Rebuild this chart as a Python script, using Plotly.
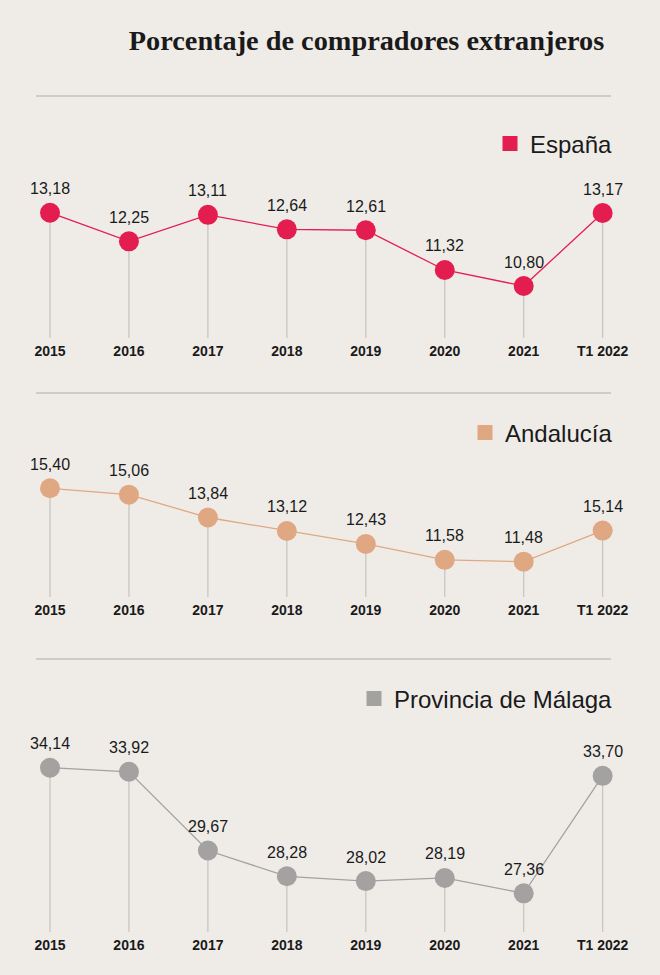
import plotly.graph_objects as go

# ---------------- data ----------------
categories = ["2015", "2016", "2017", "2018", "2019", "2020", "2021", "T1 2022"]
espana = [13.18, 12.25, 13.11, 12.64, 12.61, 11.32, 10.80, 13.17]
andalucia = [15.40, 15.06, 13.84, 13.12, 12.43, 11.58, 11.48, 13.14]  # last dot drawn at ~13.1
malaga = [34.14, 33.92, 29.67, 28.28, 28.02, 28.19, 27.36, 33.70]
espana_labels = ["13,18", "12,25", "13,11", "12,64", "12,61", "11,32", "10,80", "13,17"]
andalucia_labels = ["15,40", "15,06", "13,84", "13,12", "12,43", "11,58", "11,48", "15,14"]
malaga_labels = ["34,14", "33,92", "29,67", "28,28", "28,02", "28,19", "27,36", "33,70"]
series_names = ["España", "Andalucía", "Provincia de Málaga"]
title_text = "Porcentaje de compradores extranjeros"

# ---------------- style ----------------
W, H = 660, 975
BG = "#efece8"
colors = ["#e41d50", "#e0a882", "#a3a2a0"]
STEM = "#c9c6c2"
SANS = "Liberation Sans, Arial, sans-serif"
SERIF = "Liberation Serif, Times New Roman, serif"
TXT = "#1a1a1a"

def pfrac(py):
    return 1 - py / H

# panel geometry: (domain bottom px, domain top px, y range)
panels = [
    (338, 150, [9.112, 15.216]),
    (597, 450, [9.593, 17.446]),
    (932, 720, [25.273, 36.714]),
]
legend_y = [144, 433, 699]
xr = [-0.6333, 7.7264]
xs = list(range(len(categories)))

fig = go.Figure()
all_vals = [espana, andalucia, malaga]
all_labels = [espana_labels, andalucia_labels, malaga_labels]
annotations = []
for i, (vals, labs) in enumerate(zip(all_vals, all_labels)):
    sfx = "" if i == 0 else str(i + 1)
    xa, ya = "x" + sfx, "y" + sfx
    ymin = panels[i][2][0]
    # stems
    fig.add_trace(go.Scatter(
        x=xs, y=vals, xaxis=xa, yaxis=ya, mode="markers",
        marker=dict(size=1, opacity=0),
        error_y=dict(type="data", symmetric=False, array=[0] * len(vals),
                     arrayminus=[v - ymin for v in vals], color=STEM,
                     thickness=1.3, width=0),
        showlegend=False, hoverinfo="skip"))
    # line + dots
    fig.add_trace(go.Scatter(
        x=xs, y=vals, xaxis=xa, yaxis=ya, mode="lines+markers",
        line=dict(color=colors[i], width=1.3),
        marker=dict(size=20, color=colors[i]),
        showlegend=False, cliponaxis=False))
    # legend entry
    fig.add_trace(go.Scatter(
        x=[None], y=[None], xaxis=xa, yaxis=ya, mode="markers",
        marker=dict(symbol="square", size=15, color=colors[i]),
        name=series_names[i], legend="legend" + sfx, showlegend=True))
    for x, v, t in zip(xs, vals, labs):
        annotations.append(dict(x=x, y=v, xref=xa, yref=ya, text=t, showarrow=False,
                                yshift=24, font=dict(family=SANS, size=16, color=TXT)))

layout = dict(
    width=W, height=H, margin=dict(l=0, r=0, t=0, b=0),
    paper_bgcolor=BG, plot_bgcolor=BG,
    title=dict(text="<b>" + title_text + "</b>", x=366.5 / W, xanchor="center",
               y=pfrac(40), yanchor="middle",
               font=dict(family=SERIF, size=28.3, color=TXT)),
    annotations=annotations,
    showlegend=True,
)
for i in range(3):
    sfx = "" if i == 0 else str(i + 1)
    bot, top, rng = panels[i]
    layout["xaxis" + sfx] = dict(
        domain=[0, 1], range=xr, anchor="y" + sfx, tickmode="array",
        tickvals=xs, ticktext=categories, showgrid=False, zeroline=False,
        showline=False, ticks="", fixedrange=True, ticklabelstandoff=3,
        tickfont=dict(family=SANS, size=14, color=TXT, weight="bold"))
    layout["yaxis" + sfx] = dict(
        domain=[pfrac(bot), pfrac(top)], range=rng, anchor="x" + sfx,
        visible=False, fixedrange=True)
    layout["legend" + sfx] = dict(
        x=618 / W, xanchor="right", y=pfrac(legend_y[i]), yanchor="middle",
        bgcolor="rgba(0,0,0,0)", font=dict(family=SANS, size=24, color=TXT),
        itemsizing="trace")

fig.update_layout(**layout)

# separator rules
for py in [96, 393, 659]:
    fig.add_shape(type="line", xref="paper", yref="paper", x0=36 / W, x1=611 / W,
                  y0=pfrac(py), y1=pfrac(py), line=dict(color="#c4c1bd", width=1.5))

fig.write_html(
    "out.html",
    config={"displayModeBar": False},
    post_script="document.body.style.margin='0';document.body.style.background='%s';" % BG,
)
